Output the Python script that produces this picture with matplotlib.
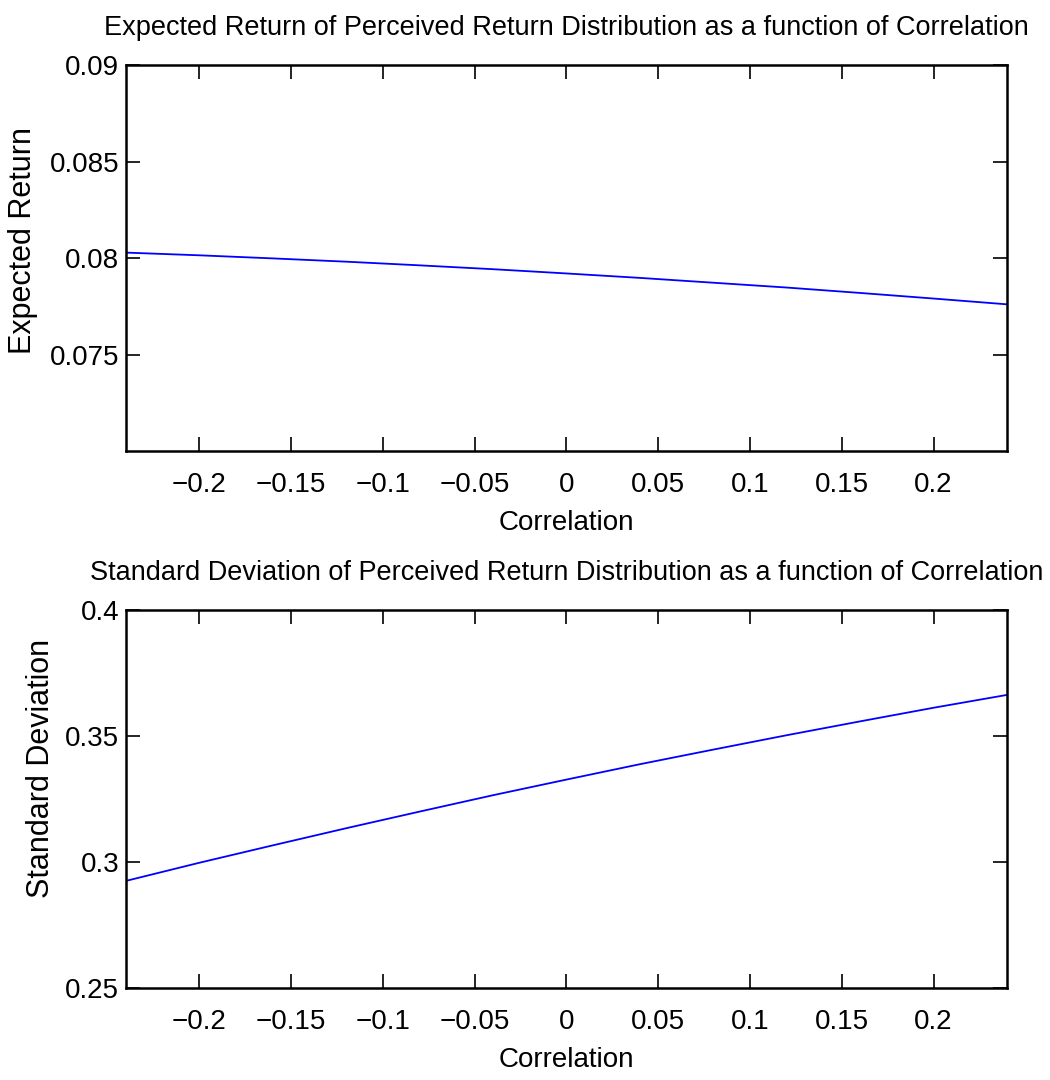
import numpy as np
import matplotlib
matplotlib.use("Agg")
import matplotlib.pyplot as plt

# correlation grid and values
rho = [-0.24, -0.20, -0.16, -0.12, -0.08, -0.04, 0.0,
       0.04, 0.08, 0.12, 0.16, 0.20, 0.24]
exp_ret = [0.08028, 0.08014, 0.07998, 0.07981, 0.07962, 0.07942, 0.0792,
           0.07897, 0.07872, 0.07847, 0.07819, 0.07790, 0.0776]
std_dev = [0.2925, 0.2997, 0.3066, 0.3134, 0.3200, 0.3265, 0.3327,
           0.3388, 0.3446, 0.3503, 0.3558, 0.3612, 0.3663]

x_ticks = [-0.2, -0.15, -0.1, -0.05, 0, 0.05, 0.1, 0.15, 0.2]
x_ticklabels = ["\u22120.2", "\u22120.15", "\u22120.1", "\u22120.05", "0",
                "0.05", "0.1", "0.15", "0.2"]
er_ticks = [0.075, 0.08, 0.085, 0.09]
er_ticklabels = ["0.075", "0.08", "0.085", "0.09"]
sd_ticks = [0.25, 0.3, 0.35, 0.4]
sd_ticklabels = ["0.25", "0.3", "0.35", "0.4"]

font = ["Liberation Sans", "DejaVu Sans"]

fig = plt.figure(figsize=(10.5, 10.8), dpi=100)
ax1 = fig.add_axes([0.12, 0.5824, 0.839, 0.3574])
ax2 = fig.add_axes([0.12, 0.0852, 0.839, 0.350])

panels = [
    (ax1, exp_ret, (0.07, 0.09), er_ticks, er_ticklabels, "Expected Return",
     (-0.0999, 0.545),
     "Expected Return of Perceived Return Distribution as a function of Correlation"),
    (ax2, std_dev, (0.25, 0.4), sd_ticks, sd_ticklabels, "Standard Deviation",
     (-0.0795, 0.582),
     "Standard Deviation of Perceived Return Distribution as a function of Correlation"),
]

for ax, vals, ylim, yt, ytl, ylab, ylab_pos, title in panels:
    ax.plot(rho, vals, color="#0000FF", linewidth=1.3)
    ax.set_xlim(-0.24, 0.24)
    ax.set_ylim(*ylim)
    ax.set_xticks(x_ticks)
    ax.set_xticklabels(x_ticklabels, family=font, fontsize=20)
    ax.set_yticks(yt)
    ax.set_yticklabels(ytl, family=font, fontsize=20)
    ax.tick_params(direction="in", length=10, width=1.2, top=True, right=True)
    ax.tick_params(axis="x", pad=15)
    ax.tick_params(axis="y", pad=5)
    for sp in ax.spines.values():
        sp.set_linewidth(1.8)
    ax.set_xlabel("Correlation", family=font, fontsize=20, labelpad=9)
    ax.set_ylabel(ylab, family=font, fontsize=22)
    ax.yaxis.set_label_coords(*ylab_pos)
    ax.set_title(title, family=font, fontsize=19.5, pad=21.5)

fig.savefig("out.png", dpi=100)
